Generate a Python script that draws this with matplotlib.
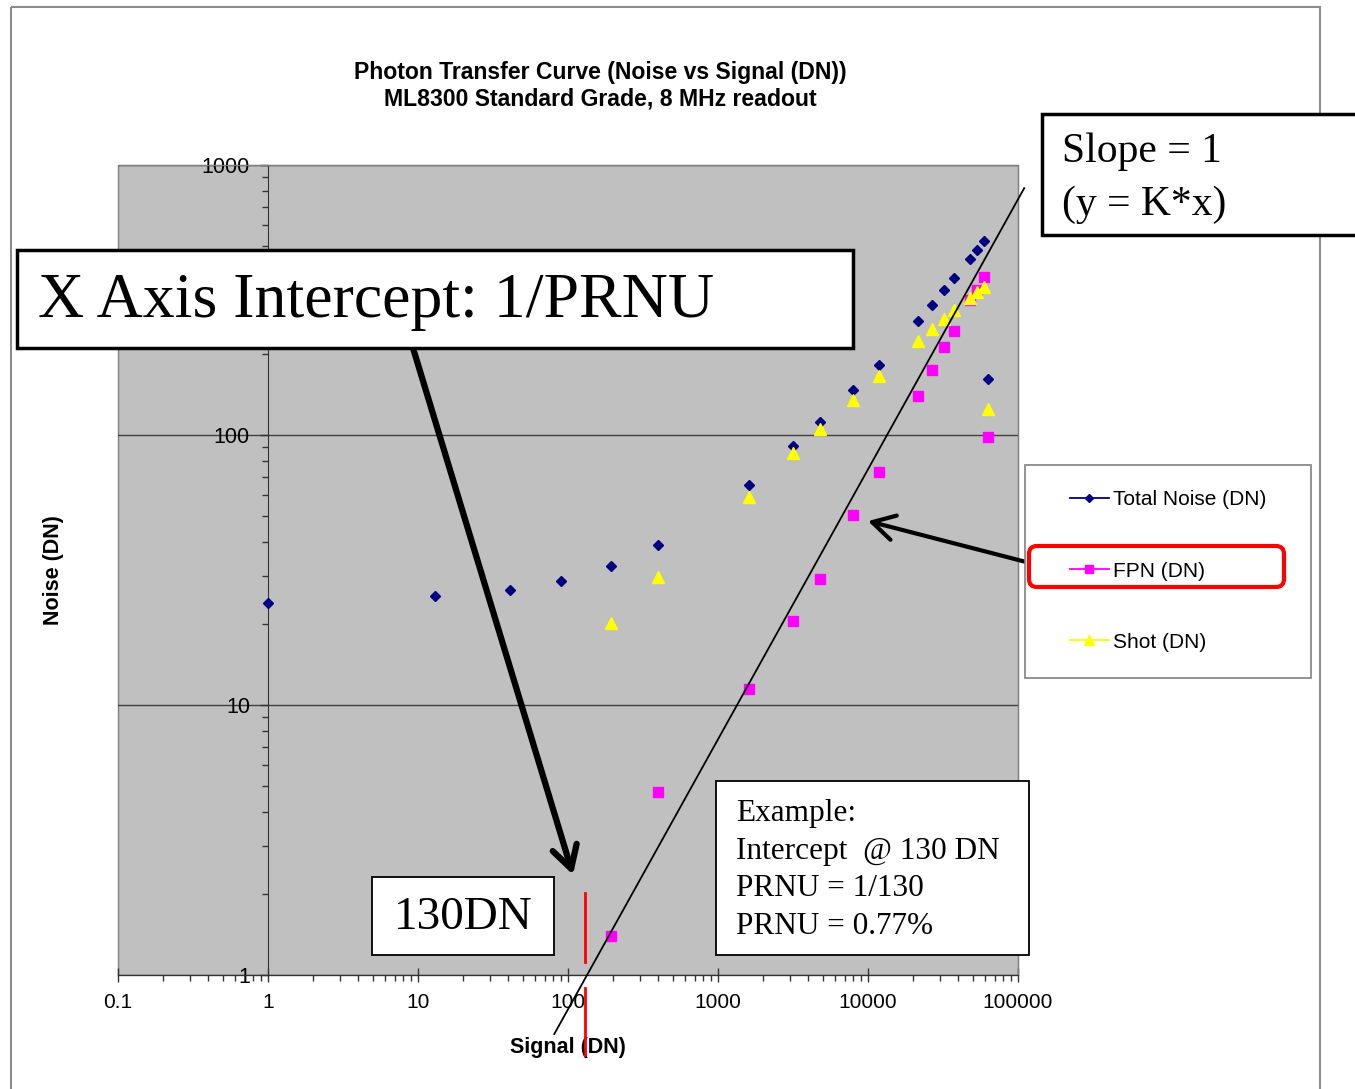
import numpy as np
import matplotlib
matplotlib.use("Agg")
import matplotlib.pyplot as plt
from matplotlib.patches import Rectangle, FancyBboxPatch
from matplotlib.lines import Line2D
from matplotlib.transforms import Affine2D
from matplotlib.ticker import LogLocator, NullFormatter

# 数据
signal = [1, 13, 41, 90, 193, 398, 1610, 3160, 4790, 7940, 11840,
          21500, 26700, 32100, 37400, 47900, 53300, 59300, 63100]
total_noise = [23.9, 25.3, 26.7, 28.8, 32.7, 39.1, 65.3, 91, 112, 147, 181,
               264, 303, 344, 381, 449, 484, 523, 161]
signal_fs = signal[4:]
fpn = [1.39, 4.76, 11.5, 20.5, 29.3, 50.5, 72.9,
       139, 174, 212, 243, 316, 344, 385, 98.4]
shot = [20.1, 29.8, 58.9, 85.8, 105, 135, 165,
        223, 247, 269, 290, 321, 339, 353, 125]

x_ticks = [0.1, 1, 10, 100, 1000, 10000, 100000]
x_tick_labels = ["0.1", "1", "10", "100", "1000", "10000", "100000"]
y_ticks = [1, 10, 100, 1000]
y_tick_labels = ["1", "10", "100", "1000"]

intercept_label = 130   # 文字中的截距
intercept_line = 134    # 斜率=1 直线在 y=1 处的截距
slope_x = [81, 110000]

W, H = 1355, 1089
SANS = "Liberation Sans"
SERIF = "Liberation Serif"

fig = plt.figure(figsize=(W / 100, H / 100), dpi=100)
# 像素坐标（左上为原点）
px = Affine2D().scale(1, -1).translate(0, H).scale(1 / 100) + fig.dpi_scale_trans

# 外框
fig.add_artist(Rectangle((11, 7), 1309, 1100, transform=px, fill=False,
                         ec="#8c8c8c", lw=1.5, zorder=0.5))

ax = fig.add_axes([118 / W, 1 - 975 / H, 900 / W, 810 / H])
ax.set_facecolor("#C0C0C0")
ax.set_xscale("log")
ax.set_yscale("log")
ax.set_xlim(0.1, 100000)
ax.set_ylim(1, 1000)

ax.plot(signal, total_noise, ls="none", marker="D", ms=5.5, color="#000080", zorder=3)
ax.plot(signal_fs, fpn, ls="none", marker="s", ms=7.5, color="#FF00FF", zorder=3)
ax.plot(signal_fs, shot, ls="none", marker="^", ms=8, color="#FFFF00", zorder=3)

# 斜率为1的直线 y = x / intercept
sx = np.array(slope_x, dtype=float)
ax.plot(sx, sx / intercept_line, color="black", lw=1.3, clip_on=False, zorder=4)

# 130 DN 处的红线
ax.plot([intercept_label] * 2, [1.12, 2.01], color="red", lw=2, zorder=4)
ax.plot([intercept_label] * 2, [0.506, 0.895], color="red", lw=2, clip_on=False, zorder=4)

# 轴
ax.spines["left"].set_position(("data", 1))
ax.spines["left"].set_color("#333333")
ax.spines["bottom"].set_color("#333333")
ax.spines["top"].set_color("#808080")
ax.spines["right"].set_color("#808080")
ax.add_patch(Rectangle((0, 0), 1, 1, transform=ax.transAxes, fill=False,
                       ec="#808080", lw=1, clip_on=False, zorder=0.5))
ax.yaxis.grid(True, which="major", color="#404040", lw=1)
ax.set_axisbelow(True)

ax.set_xticks(x_ticks, labels=x_tick_labels)
ax.set_yticks(y_ticks, labels=y_tick_labels)
ax.xaxis.set_minor_locator(LogLocator(base=10, subs=np.arange(2, 10)))
ax.yaxis.set_minor_locator(LogLocator(base=10, subs=np.arange(2, 10)))
ax.xaxis.set_minor_formatter(NullFormatter())
ax.yaxis.set_minor_formatter(NullFormatter())
ax.tick_params(axis="x", which="major", direction="inout", length=10, width=1,
               color="#333333", pad=8, labelsize=15)
ax.tick_params(axis="x", which="minor", direction="out", length=4, width=1, color="#333333")
ax.tick_params(axis="y", which="major", direction="out", length=6, width=1,
               color="#333333", pad=7, labelsize=15.5)
ax.tick_params(axis="y", which="minor", direction="out", length=4, width=1, color="#333333")
for lab in ax.get_xticklabels() + ax.get_yticklabels():
    lab.set_family(SANS)

ax.set_xlabel("Signal (DN)", fontsize=15.5, fontweight="bold", family=SANS)
ax.xaxis.set_label_coords(0.5, (975 - 1037) / 810)
ax.set_ylabel("Noise (DN)", fontsize=15.5, fontweight="bold", family=SANS)
ax.yaxis.set_label_coords((64 - 118) / 900, 0.5)

fig.text(600, 72, "Photon Transfer Curve (Noise vs Signal (DN))", transform=px,
         ha="center", va="center", fontsize=16.6, fontweight="bold", family=SANS)
fig.text(600, 99, "ML8300 Standard Grade, 8 MHz readout", transform=px,
         ha="center", va="center", fontsize=16.6, fontweight="bold", family=SANS)

# 图例
fig.add_artist(Rectangle((1025, 465), 286, 213, transform=px, fc="white",
                         ec="#808080", lw=1.2, zorder=2))
handles = [
    Line2D([], [], color="#000080", marker="D", ms=4.5, lw=1.3),
    Line2D([], [], color="#FF00FF", marker="s", ms=6, lw=1.3),
    Line2D([], [], color="#FFFF00", marker="^", ms=6.5, lw=1.3),
]
fig.legend(handles, ["Total Noise (DN)", "FPN (DN)", "Shot (DN)"],
           loc="center left", bbox_to_anchor=(1070 / W, 1 - 571 / H),
           frameon=False, borderpad=0, borderaxespad=0, handlelength=1.85,
           handletextpad=0.2, labelspacing=2.5, prop={"family": SANS, "size": 15})
fig.add_artist(FancyBboxPatch((1029, 546), 255, 41, transform=px,
                              boxstyle="round,pad=0,rounding_size=8",
                              fill=False, ec="red", lw=3, zorder=5))

# 注释框
fig.add_artist(Rectangle((17, 250), 836, 98, transform=px, fc="white",
                         ec="black", lw=2.5, zorder=3))
fig.text(38, 302, "X Axis Intercept: 1/PRNU", transform=px, ha="left", va="center",
         fontsize=46, family=SERIF, zorder=4)

fig.add_artist(Rectangle((1042, 114), 330, 121, transform=px, fc="white",
                         ec="black", lw=2.5, zorder=3))
for yy, line in zip([152, 205], ["Slope = 1", "(y = K*x)"]):
    fig.text(1062, yy, line, transform=px, ha="left", va="center",
             fontsize=30, family=SERIF, zorder=4)

fig.add_artist(Rectangle((716, 781), 313, 174, transform=px, fc="white",
                         ec="black", lw=1.3, zorder=3))
example_lines = ["Example:", "Intercept  @ 130 DN", "PRNU = 1/130", "PRNU = 0.77%"]
for yy, line in zip([813, 851, 888, 927], example_lines):
    fig.text(736, yy, line, transform=px, ha="left", va="center",
             fontsize=22.5, family=SERIF, zorder=4)

fig.add_artist(Rectangle((372, 877), 182, 78, transform=px, fc="white",
                         ec="black", lw=1.3, zorder=3))
fig.text(463, 918, "130DN", transform=px, ha="center", va="center",
         fontsize=34, family=SERIF, zorder=4)

# 箭头
ax.annotate("", xy=(108, 2.35), xytext=(413, 348), textcoords=px,
            annotation_clip=False, zorder=6,
            arrowprops=dict(arrowstyle="->,head_length=0.8,head_width=0.45",
                            lw=4.5, color="black", mutation_scale=20,
                            shrinkA=0, shrinkB=0))
ax.annotate("", xy=(10000, 48), xytext=(1030, 563), textcoords=px,
            annotation_clip=False, zorder=6,
            arrowprops=dict(arrowstyle="->,head_length=0.8,head_width=0.45",
                            lw=3, color="black", mutation_scale=20,
                            shrinkA=0, shrinkB=0))

fig.savefig("out.png", dpi=100)
